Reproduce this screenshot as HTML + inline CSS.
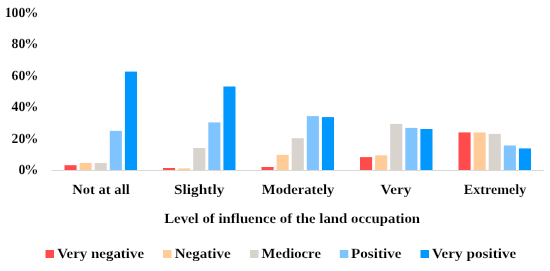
<!DOCTYPE html>
<html><head><meta charset="utf-8"><style>
html,body{margin:0;padding:0;background:#fff;width:550px;height:271px;overflow:hidden;font-family:"Liberation Serif",serif;}
svg{display:block;will-change:transform}
</style></head><body>
<svg width="550" height="271" viewBox="0 0 550 271">
<rect width="550" height="271" fill="#fff"/>
<g><rect x="64.50" y="165.20" width="12.1" height="4.80" fill="#FF4B4B"/><rect x="79.60" y="162.90" width="12.1" height="7.10" fill="#FFCC99"/><rect x="94.70" y="163.00" width="12.1" height="7.00" fill="#D9D3CD"/><rect x="109.80" y="130.90" width="12.1" height="39.10" fill="#80C4FF"/><rect x="124.90" y="71.60" width="12.1" height="98.40" fill="#0098FF"/><rect x="163.00" y="168.00" width="12.1" height="2.00" fill="#FF4B4B"/><rect x="178.10" y="168.40" width="12.1" height="1.60" fill="#FFCC99"/><rect x="193.20" y="148.00" width="12.1" height="22.00" fill="#D9D3CD"/><rect x="208.30" y="122.40" width="12.1" height="47.60" fill="#80C4FF"/><rect x="223.40" y="86.50" width="12.1" height="83.50" fill="#0098FF"/><rect x="261.50" y="167.00" width="12.1" height="3.00" fill="#FF4B4B"/><rect x="276.60" y="154.90" width="12.1" height="15.10" fill="#FFCC99"/><rect x="291.70" y="138.20" width="12.1" height="31.80" fill="#D9D3CD"/><rect x="306.80" y="116.10" width="12.1" height="53.90" fill="#80C4FF"/><rect x="321.90" y="117.10" width="12.1" height="52.90" fill="#0098FF"/><rect x="360.00" y="157.10" width="12.1" height="12.90" fill="#FF4B4B"/><rect x="375.10" y="155.30" width="12.1" height="14.70" fill="#FFCC99"/><rect x="390.20" y="123.90" width="12.1" height="46.10" fill="#D9D3CD"/><rect x="405.30" y="127.90" width="12.1" height="42.10" fill="#80C4FF"/><rect x="420.40" y="129.00" width="12.1" height="41.00" fill="#0098FF"/><rect x="458.50" y="132.40" width="12.1" height="37.60" fill="#FF4B4B"/><rect x="473.60" y="132.40" width="12.1" height="37.60" fill="#FFCC99"/><rect x="488.70" y="133.90" width="12.1" height="36.10" fill="#D9D3CD"/><rect x="503.80" y="145.50" width="12.1" height="24.50" fill="#80C4FF"/><rect x="518.90" y="148.40" width="12.1" height="21.60" fill="#0098FF"/></g>
<rect x="51.5" y="170" width="492.5" height="1" fill="#D9D9D9"/>
<g><rect x="45.5" y="250" width="8.5" height="8" fill="#FF4B4B"/><rect x="163" y="250" width="8.5" height="8" fill="#FFCC99"/><rect x="250" y="250" width="8.5" height="8" fill="#D9D3CD"/><rect x="339.8" y="250" width="8.5" height="8" fill="#80C4FF"/><rect x="420.5" y="250" width="8.5" height="8" fill="#0098FF"/></g>
<g font-family="Liberation Serif" font-weight="bold" stroke="#fff" stroke-width="0.12" fill="#000" style="text-rendering:geometricPrecision">
<text x="4.70" y="17.40" font-size="14.0" textLength="20.70" lengthAdjust="spacingAndGlyphs">100</text><text x="24.20" y="17.40" font-size="14.0" textLength="14.20" lengthAdjust="spacingAndGlyphs">%</text><text x="11.60" y="48.10" font-size="14.0" textLength="13.80" lengthAdjust="spacingAndGlyphs">80</text><text x="24.20" y="48.10" font-size="14.0" textLength="14.20" lengthAdjust="spacingAndGlyphs">%</text><text x="11.60" y="79.87" font-size="14.0" textLength="13.80" lengthAdjust="spacingAndGlyphs">60</text><text x="24.20" y="79.87" font-size="14.0" textLength="14.20" lengthAdjust="spacingAndGlyphs">%</text><text x="11.60" y="110.70" font-size="14.0" textLength="13.80" lengthAdjust="spacingAndGlyphs">40</text><text x="24.20" y="110.70" font-size="14.0" textLength="14.20" lengthAdjust="spacingAndGlyphs">%</text><text x="11.60" y="142.70" font-size="14.0" textLength="13.80" lengthAdjust="spacingAndGlyphs">20</text><text x="24.20" y="142.70" font-size="14.0" textLength="14.20" lengthAdjust="spacingAndGlyphs">%</text><text x="18.50" y="174.30" font-size="14.0" textLength="6.90" lengthAdjust="spacingAndGlyphs">0</text><text x="24.20" y="174.30" font-size="14.0" textLength="14.20" lengthAdjust="spacingAndGlyphs">%</text><text x="72.24" y="194.10" font-size="14.0" textLength="57.52" lengthAdjust="spacingAndGlyphs">Not at all</text><text x="173.94" y="194.10" font-size="14.0" textLength="50.40" lengthAdjust="spacingAndGlyphs">Slightly</text><text x="261.86" y="194.10" font-size="14.0" textLength="72.49" lengthAdjust="spacingAndGlyphs">Moderately</text><text x="380.62" y="194.10" font-size="14.0" textLength="30.70" lengthAdjust="spacingAndGlyphs">Very</text><text x="463.81" y="194.10" font-size="14.0" textLength="62.46" lengthAdjust="spacingAndGlyphs">Extremely</text><text x="164.20" y="222.90" font-size="14.0" textLength="255.92" lengthAdjust="spacingAndGlyphs">Level of influence of the land occupation</text><text x="57.23" y="257.90" font-size="14.0" textLength="86.84" lengthAdjust="spacingAndGlyphs">Very negative</text><text x="174.75" y="257.90" font-size="14.0" textLength="55.93" lengthAdjust="spacingAndGlyphs">Negative</text><text x="261.62" y="257.90" font-size="14.0" textLength="59.30" lengthAdjust="spacingAndGlyphs">Mediocre</text><text x="351.09" y="257.90" font-size="14.0" textLength="50.35" lengthAdjust="spacingAndGlyphs">Positive</text><text x="432.05" y="257.90" font-size="14.0" textLength="84.25" lengthAdjust="spacingAndGlyphs">Very positive</text>
</g>
</svg>
</body></html>
